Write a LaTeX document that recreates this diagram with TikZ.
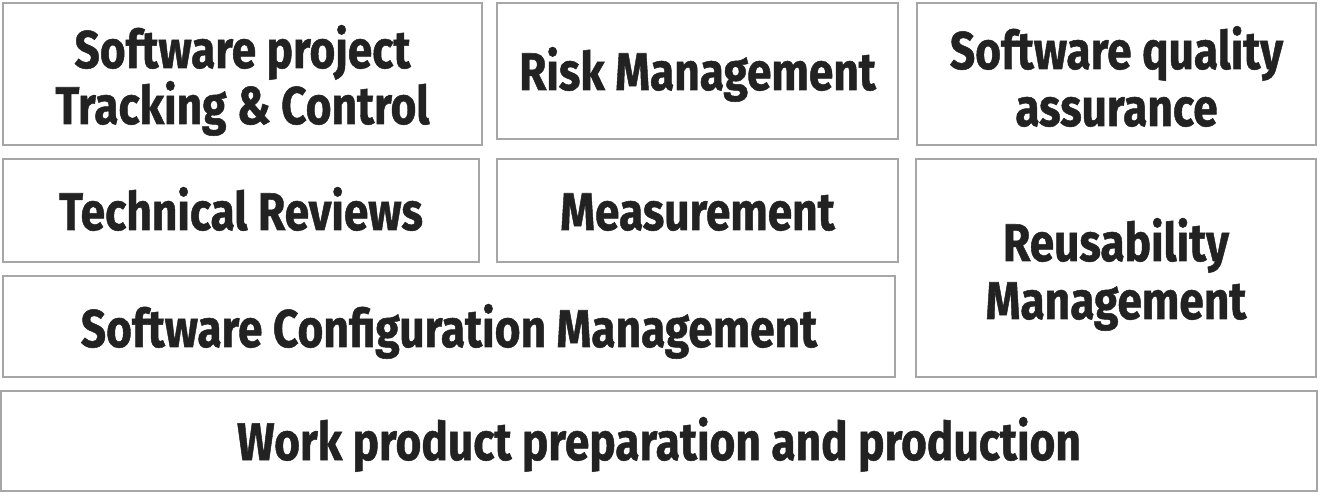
\documentclass[tikz,border=0pt]{standalone}
\usepackage{graphicx}
\usepackage{fontspec}
\setmainfont{Fira Sans}[BoldFeatures={FakeBold=1}]
\definecolor{edgegray}{HTML}{A6A6A6}
\definecolor{inkdark}{HTML}{222222}
% condensed look for the labels
\newcommand{\cond}[1]{\scalebox{0.835}[1]{#1}}
\tikzset{
  area/.style={draw=edgegray, line width=2pt, fill=white, rectangle,
    anchor=north west, inner sep=0pt, outer sep=0pt},
  caption/.style={anchor=base, inner sep=0pt, text=inkdark,
    font=\fontsize{53}{58}\selectfont\bfseries},
}
\begin{document}
\begin{tikzpicture}[x=1pt, y=-1pt]
  \useasboundingbox (0,0) rectangle (1322,502);

  % boxes
  \node[area, minimum width=479pt, minimum height=142pt] (track) at (3,3) {};
  \node[area, minimum width=401pt, minimum height=136pt] (risk) at (497,3) {};
  \node[area, minimum width=399pt, minimum height=142pt] (sqa) at (917,3) {};
  \node[area, minimum width=476pt, minimum height=103pt] (review) at (3,159) {};
  \node[area, minimum width=401pt, minimum height=103pt] (measure) at (497,159) {};
  \node[area, minimum width=400pt, minimum height=218pt] (reuse) at (916,159) {};
  \node[area, minimum width=892pt, minimum height=101pt] (config) at (3,276) {};
  \node[area, minimum width=1316pt, minimum height=100pt] (work) at (1,391) {};

  % labels
  \node[caption] (trackA) at (track.center |- 0,68) {\cond{Software project}};
  \node[caption] (trackB) at (track.center |- 0,124) {\cond{Tracking \& Control}};
  \node[caption] (riskA) at (risk.center |- 0,90) {\cond{Risk Management}};
  \node[caption] (sqaA) at (sqa.center |- 0,69) {\cond{Software quality}};
  \node[caption] (sqaB) at (sqa.center |- 0,126) {\cond{assurance}};
  \node[caption] (reviewA) at (review.center |- 0,230) {\cond{Technical Reviews}};
  \node[caption] (measureA) at (measure.center |- 0,230) {\cond{Measurement}};
  \node[caption] (reuseA) at (reuse.center |- 0,261) {\cond{Reusability}};
  \node[caption] (reuseB) at (reuse.center |- 0,319) {\cond{Management}};
  \node[caption] (configA) at (config.center |- 0,347) {\cond{Software Configuration Management}};
  \node[caption] (workA) at (work.center |- 0,460) {\cond{Work product preparation and production}};
\end{tikzpicture}
\end{document}
